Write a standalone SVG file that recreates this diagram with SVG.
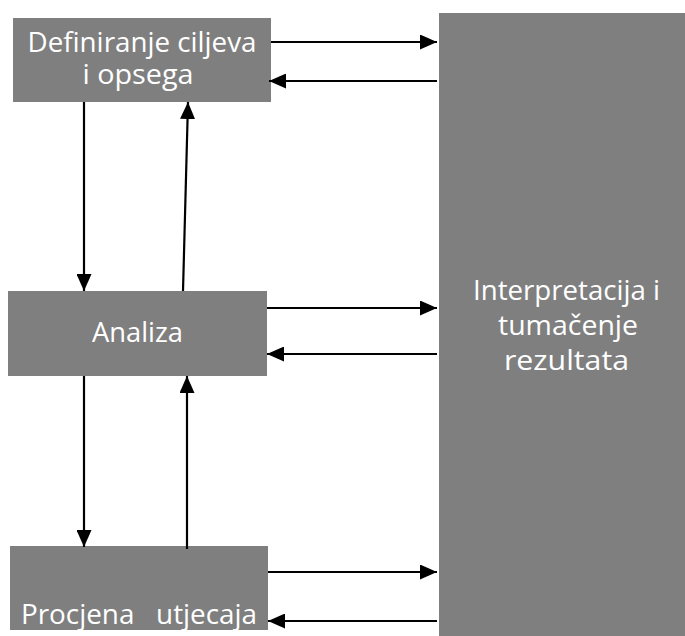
<svg xmlns="http://www.w3.org/2000/svg" width="685" height="636" viewBox="0 0 685 636">
<style>
.box{fill:#7f7f7f}
.lbl{font-family:"Open Sans","Noto Sans","DejaVu Sans",sans-serif;font-size:27px;fill:#ffffff;text-anchor:middle;white-space:pre}
.conn{stroke:#000;stroke-width:2.2;fill:none;marker-end:url(#ah)}
</style>
<defs>
<marker id="ah" markerUnits="userSpaceOnUse" markerWidth="17" markerHeight="15" refX="17" refY="7.5" orient="auto">
<path d="M0,0 L17,7.5 L0,15 Z" fill="#000"/>
</marker>
</defs>
<rect width="685" height="636" fill="#fff"/>
<g id="node-definiranje">
<rect class="box" x="13" y="18" width="258" height="84"/>
<text class="lbl" x="142" y="52" textLength="229" lengthAdjust="spacingAndGlyphs">Definiranje ciljeva</text>
<text class="lbl" x="138" y="84" textLength="111" lengthAdjust="spacingAndGlyphs">i opsega</text>
</g>
<g id="node-analiza">
<rect class="box" x="8" y="291" width="259" height="85"/>
<text class="lbl" x="137.5" y="342" textLength="91" lengthAdjust="spacingAndGlyphs">Analiza</text>
</g>
<g id="node-procjena">
<rect class="box" x="10" y="546" width="258" height="84"/>
<text class="lbl" x="139" y="624" textLength="236" lengthAdjust="spacingAndGlyphs" xml:space="preserve">Procjena   utjecaja</text>
</g>
<g id="node-interpretacija">
<rect class="box" x="439" y="13" width="246" height="623"/>
<text class="lbl" x="566.5" y="300" textLength="187" lengthAdjust="spacingAndGlyphs">Interpretacija i</text>
<text class="lbl" x="568" y="335" textLength="140" lengthAdjust="spacingAndGlyphs">tumačenje</text>
<text class="lbl" x="566.5" y="370" textLength="125" lengthAdjust="spacingAndGlyphs">rezultata</text>
</g>
<g id="connectors">
<line class="conn" x1="271" y1="42" x2="437" y2="42"/>
<line class="conn" x1="437" y1="81" x2="269" y2="81"/>
<line class="conn" x1="267" y1="308" x2="437" y2="308"/>
<line class="conn" x1="437" y1="354" x2="267" y2="354"/>
<line class="conn" x1="268" y1="572" x2="437" y2="572"/>
<line class="conn" x1="437" y1="621" x2="268" y2="621"/>
<line class="conn" x1="84" y1="102" x2="84" y2="291"/>
<line class="conn" x1="183" y1="291" x2="188" y2="102"/>
<line class="conn" x1="84" y1="376" x2="84" y2="547"/>
<line class="conn" x1="187" y1="549" x2="187" y2="376"/>
</g>
</svg>
